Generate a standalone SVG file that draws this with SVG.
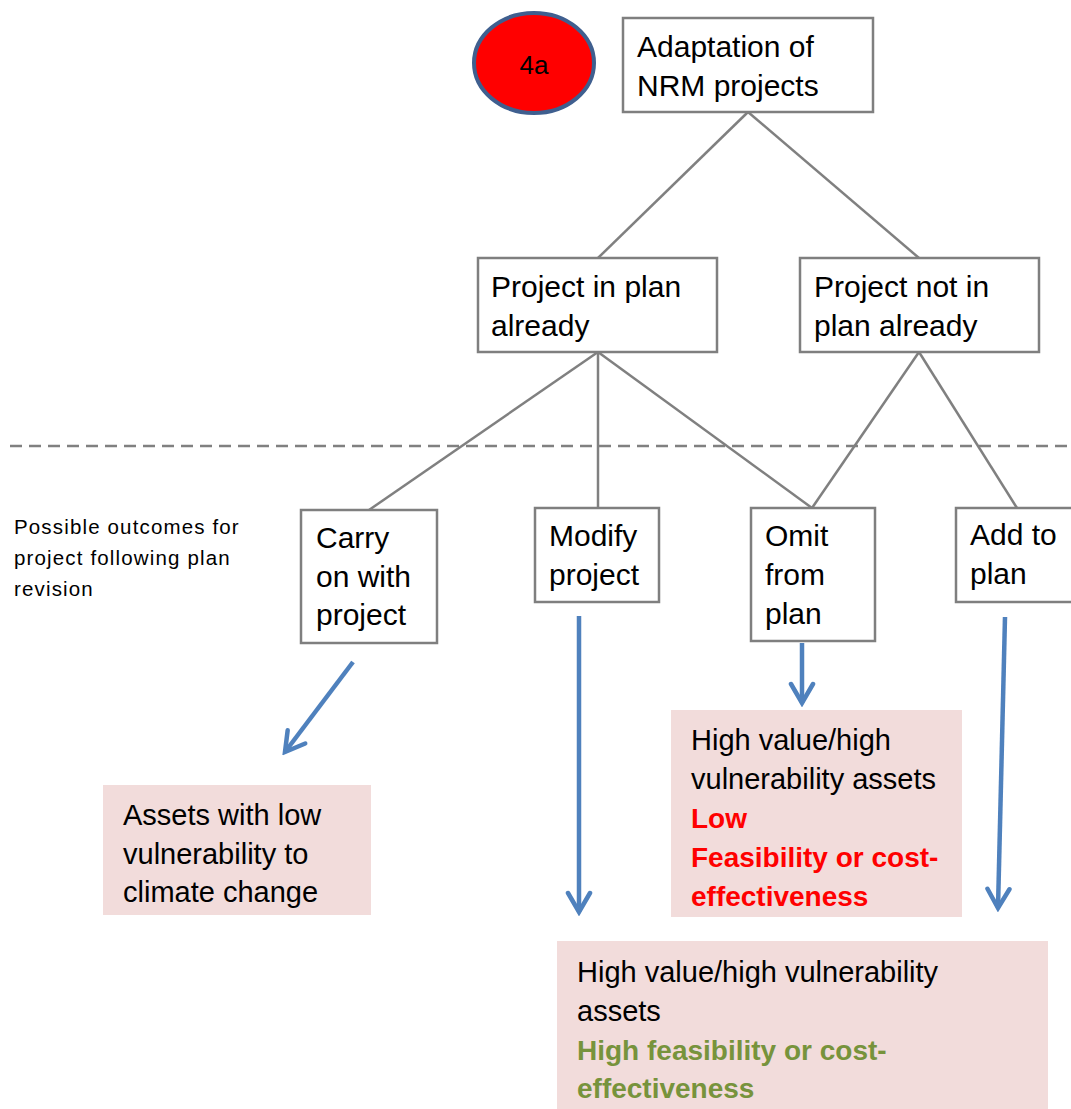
<svg xmlns="http://www.w3.org/2000/svg" width="1071" height="1109" viewBox="0 0 1071 1109">
<defs>
<style>
.box{fill:#fff;stroke:#7f7f7f;stroke-width:2.5}
.pink{fill:#f2dcdb}
.t{font-family:"Liberation Sans",Arial,sans-serif;font-size:30px;fill:#000}
.tp{font-family:"Liberation Sans",Arial,sans-serif;font-size:29px;fill:#000}
.red{font-weight:bold;fill:#ff0000;font-size:28px}
.olive{font-weight:bold;fill:#77933c;font-size:28px}
.gl{stroke:#808080;stroke-width:2.5;fill:none}
.bl{stroke:#4f81bd;stroke-width:4.5;fill:none}
.note{font-family:"Liberation Sans",Arial,sans-serif;font-size:20.5px;fill:#000;letter-spacing:1.15px}
</style>
<marker id="ah" viewBox="-22 -14 26 28" refX="0" refY="0" markerWidth="26" markerHeight="28" markerUnits="userSpaceOnUse" orient="auto">
<path d="M-19,-11 L0,0 L-19,11" fill="none" stroke="#4f81bd" stroke-width="4.5" stroke-linejoin="miter" stroke-linecap="round"/>
</marker>
<clipPath id="c1"><rect x="103" y="785" width="268" height="130"/></clipPath>
</defs>

<g id="connectors">
<line class="gl" x1="748" y1="112" x2="598" y2="258"/>
<line class="gl" x1="748" y1="112" x2="919" y2="258"/>
<line class="gl" x1="598" y1="352" x2="369" y2="510"/>
<line class="gl" x1="598" y1="352" x2="598" y2="508"/>
<line class="gl" x1="598" y1="352" x2="812" y2="508"/>
<line class="gl" x1="919" y1="352" x2="812" y2="508"/>
<line class="gl" x1="919" y1="352" x2="1017" y2="508"/>
<line id="divider" x1="10" y1="446" x2="1071" y2="446" stroke="#808080" stroke-width="2.5" stroke-dasharray="12 7"/>
<line class="bl" x1="353" y1="662" x2="285" y2="752" marker-end="url(#ah)"/>
<line class="bl" x1="579" y1="616" x2="579" y2="912" marker-end="url(#ah)"/>
<line class="bl" x1="802" y1="643" x2="802" y2="703" marker-end="url(#ah)"/>
<line class="bl" x1="1005" y1="617" x2="998" y2="908" marker-end="url(#ah)"/>
</g>

<g id="badge">
<ellipse cx="534" cy="63" rx="60" ry="50" fill="#ff0000" stroke="#3f5f8f" stroke-width="4"/>
<text x="534" y="74" text-anchor="middle" font-family="Liberation Sans, Arial, sans-serif" font-size="26" fill="#000">4a</text>
</g>

<g id="root">
<rect class="box" x="623" y="18" width="250" height="94"/>
<text class="t" x="637" y="57">Adaptation of</text>
<text class="t" x="637" y="96">NRM projects</text>
</g>

<g id="in-plan">
<rect class="box" x="478" y="258" width="239" height="94"/>
<text class="t" x="491" y="297">Project in plan</text>
<text class="t" x="491" y="336">already</text>
</g>

<g id="not-in-plan">
<rect class="box" x="800" y="258" width="239" height="94"/>
<text class="t" x="814" y="297">Project not in</text>
<text class="t" x="814" y="336">plan already</text>
</g>

<g id="note">
<text class="note" x="14" y="534">Possible outcomes for</text>
<text class="note" x="14" y="565">project following plan</text>
<text class="note" x="14" y="596">revision</text>
</g>

<g id="carry-on">
<rect class="box" x="301" y="510" width="136" height="133"/>
<text class="t" x="316" y="548">Carry</text>
<text class="t" x="316" y="587">on with</text>
<text class="t" x="316" y="625">project</text>
</g>

<g id="modify">
<rect class="box" x="535" y="508" width="124" height="94"/>
<text class="t" x="549" y="546">Modify</text>
<text class="t" x="549" y="585">project</text>
</g>

<g id="omit">
<rect class="box" x="751" y="508" width="124" height="133"/>
<text class="t" x="765" y="546">Omit</text>
<text class="t" x="765" y="585">from</text>
<text class="t" x="765" y="624">plan</text>
</g>

<g id="add">
<rect class="box" x="956" y="508" width="130" height="94"/>
<text class="t" x="970" y="545">Add to</text>
<text class="t" x="970" y="584">plan</text>
</g>

<g id="low-vuln">
<rect class="pink" x="103" y="785" width="268" height="130"/>
<g clip-path="url(#c1)">
<text class="tp" x="123" y="825">Assets with low</text>
<text class="tp" x="123" y="864">vulnerability to</text>
<text class="tp" x="123" y="902">climate change</text>
</g>
</g>

<g id="low-feas">
<rect class="pink" x="671" y="710" width="291" height="207"/>
<text class="tp" x="691" y="750">High value/high</text>
<text class="tp" x="691" y="789">vulnerability assets</text>
<text class="tp red" x="691" y="828">Low</text>
<text class="tp red" x="691" y="867">Feasibility or cost-</text>
<text class="tp red" x="691" y="906">effectiveness</text>
</g>

<g id="high-feas">
<rect class="pink" x="557" y="941" width="491" height="168"/>
<text class="tp" x="577" y="982">High value/high vulnerability</text>
<text class="tp" x="577" y="1021">assets</text>
<text class="tp olive" x="577" y="1060">High feasibility or cost-</text>
<text class="tp olive" x="577" y="1098">effectiveness</text>
</g>
</svg>
